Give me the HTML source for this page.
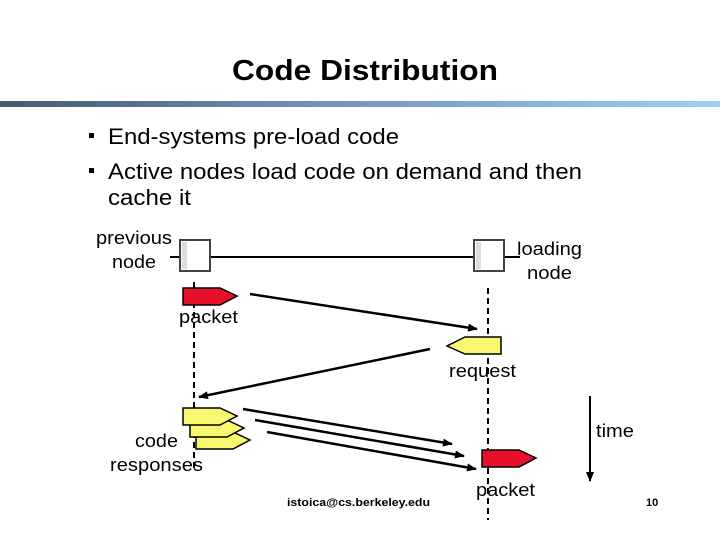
<!DOCTYPE html>
<html><head><meta charset="utf-8"><style>
html,body{margin:0;padding:0;background:#fff;}
svg{display:block;}
text{font-family:"Liberation Sans",Arial,sans-serif;fill:#000;}
</style></head><body>
<svg width="720" height="540" viewBox="0 0 720 540" xmlns="http://www.w3.org/2000/svg">
<defs>
<linearGradient id="bar" x1="0" x2="1" y1="0" y2="0">
<stop offset="0" stop-color="#465a6c"/><stop offset="0.45" stop-color="#7094be"/><stop offset="1" stop-color="#a0ccf8"/>
</linearGradient>
<marker id="ah" markerWidth="10" markerHeight="8" refX="9" refY="4" orient="auto" markerUnits="userSpaceOnUse" viewBox="0 0 10 8">
<path d="M0,0 L10,4 L0,8 Z" fill="#000"/></marker>
</defs>
<text x="232" y="80" font-size="29" font-weight="bold" textLength="266" lengthAdjust="spacingAndGlyphs">Code Distribution</text>
<rect x="0" y="101" width="720" height="6" fill="url(#bar)"/>
<rect x="89" y="133" width="5" height="5" fill="#000"/>
<rect x="89" y="168" width="5" height="5" fill="#000"/>
<text x="108" y="144" font-size="22" textLength="291" lengthAdjust="spacingAndGlyphs">End-systems pre-load code</text>
<text x="108" y="179" font-size="22" textLength="474" lengthAdjust="spacingAndGlyphs">Active nodes load code on demand and then</text>
<text x="108" y="205" font-size="22" textLength="83" lengthAdjust="spacingAndGlyphs">cache it</text>

<line x1="170" y1="257" x2="520" y2="257" stroke="#000" stroke-width="2"/>
<rect x="180" y="240" width="30" height="31" fill="#fff" stroke="#444" stroke-width="2"/>
<rect x="182" y="242" width="5" height="27" fill="#ddd"/>
<rect x="474" y="240" width="30" height="31" fill="#fff" stroke="#444" stroke-width="2"/>
<rect x="476" y="242" width="5" height="27" fill="#ddd"/>

<line x1="194" y1="282" x2="194" y2="470" stroke="#000" stroke-width="2" stroke-dasharray="6,4"/>
<line x1="488" y1="288" x2="488" y2="520" stroke="#000" stroke-width="2" stroke-dasharray="6,4"/>

<text x="96" y="244" font-size="18" textLength="76" lengthAdjust="spacingAndGlyphs">previous</text>
<text x="112" y="268" font-size="18" textLength="44" lengthAdjust="spacingAndGlyphs">node</text>
<text x="517" y="255" font-size="18" textLength="65" lengthAdjust="spacingAndGlyphs">loading</text>
<text x="527" y="279" font-size="18" textLength="45" lengthAdjust="spacingAndGlyphs">node</text>

<path d="M183,288 L220,288 L237,296 L220,305 L183,305 Z" fill="#e8102a" stroke="#000" stroke-width="1.5"/>
<text x="179" y="323" font-size="18" textLength="59" lengthAdjust="spacingAndGlyphs">packet</text>
<line x1="250" y1="294" x2="477" y2="329" stroke="#000" stroke-width="2.5" marker-end="url(#ah)"/>

<path d="M501,337 L501,354 L465,354 L447,346 L465,337 Z" fill="#f8f870" stroke="#000" stroke-width="1.5"/>
<text x="449" y="377" font-size="18" textLength="67" lengthAdjust="spacingAndGlyphs">request</text>
<line x1="430" y1="349" x2="199" y2="397" stroke="#000" stroke-width="2.5" marker-end="url(#ah)"/>

<path d="M196,432 L233,432 L250,440 L233,449 L196,449 Z" fill="#f8f870" stroke="#000" stroke-width="1.5"/>
<path d="M190,420 L227,420 L244,428 L227,437 L190,437 Z" fill="#f8f870" stroke="#000" stroke-width="1.5"/>
<path d="M183,408 L220,408 L237,416 L220,425 L183,425 Z" fill="#f8f870" stroke="#000" stroke-width="1.5"/>
<text x="135" y="447" font-size="18" textLength="43" lengthAdjust="spacingAndGlyphs">code</text>
<text x="110" y="471" font-size="18" textLength="93" lengthAdjust="spacingAndGlyphs">responses</text>

<line x1="243" y1="409" x2="452" y2="444" stroke="#000" stroke-width="2.5" marker-end="url(#ah)"/>
<line x1="255" y1="420" x2="464" y2="456" stroke="#000" stroke-width="2.5" marker-end="url(#ah)"/>
<line x1="267" y1="432" x2="476" y2="469" stroke="#000" stroke-width="2.5" marker-end="url(#ah)"/>

<path d="M482,450 L519,450 L536,458 L519,467 L482,467 Z" fill="#e8102a" stroke="#000" stroke-width="1.5"/>
<text x="476" y="496" font-size="18" textLength="59" lengthAdjust="spacingAndGlyphs">packet</text>

<line x1="590" y1="396" x2="590" y2="481" stroke="#000" stroke-width="2" marker-end="url(#ah)"/>
<text x="596" y="437" font-size="18" textLength="38" lengthAdjust="spacingAndGlyphs">time</text>

<text x="287" y="506" font-size="11" font-weight="bold" textLength="143" lengthAdjust="spacingAndGlyphs">istoica@cs.berkeley.edu</text>
<text x="646" y="506" font-size="11" font-weight="bold">10</text>
</svg>
</body></html>
